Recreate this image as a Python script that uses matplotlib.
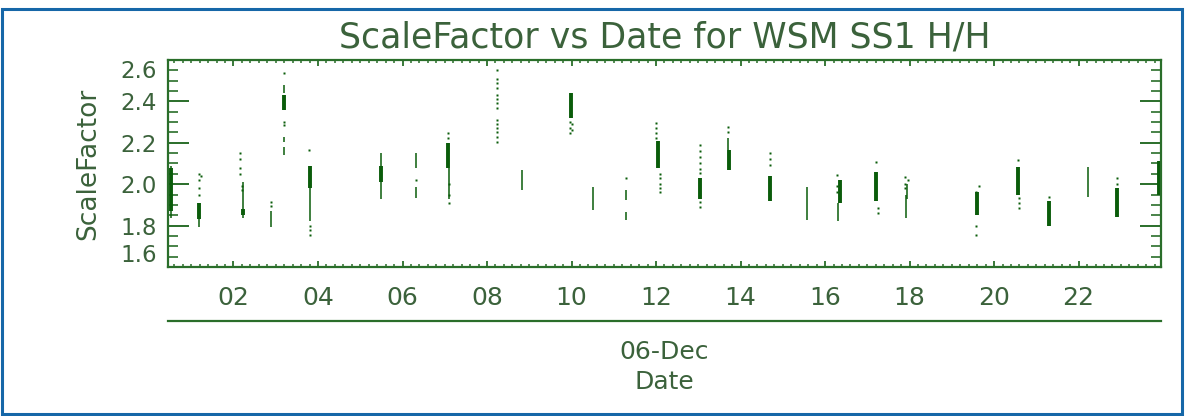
import numpy as np
import matplotlib
matplotlib.use("Agg")
import matplotlib.pyplot as plt
import matplotlib.dates as mdates
from matplotlib.patches import Rectangle
from matplotlib.lines import Line2D

DAY = np.datetime64("2006-12-06T00:00")

# dense parts of each pass (hour of day, low, high)
core_hours = [0.51, 1.19, 2.22, 3.20, 3.80, 5.49, 7.07, 9.98, 12.04, 13.04,
              13.72, 14.70, 16.35, 17.21, 19.60, 20.57, 21.29, 22.92, 23.91]
core_lo = [1.87, 1.83, 1.85, 2.36, 1.98, 2.01, 2.08, 2.32, 2.08, 1.93,
           2.07, 1.92, 1.91, 1.92, 1.85, 1.95, 1.80, 1.84, 1.95]
core_hi = [2.08, 1.91, 1.88, 2.43, 2.09, 2.09, 2.20, 2.44, 2.21, 2.03,
           2.165, 2.04, 2.02, 2.06, 1.96, 2.085, 1.92, 1.98, 2.11]

# thinner runs of points
run_hours = [0.51, 1.19, 2.23, 2.89, 3.20, 3.20, 3.19, 3.82, 5.49, 6.33,
             6.33, 7.09, 8.82, 10.50, 11.30, 11.30, 13.70, 15.57, 16.30,
             17.92, 17.95, 22.23]
run_lo = [1.835, 1.795, 1.835, 1.795, 2.14, 2.205, 2.44, 1.82, 1.93, 2.077,
          1.932, 1.93, 1.972, 1.875, 1.924, 1.827, 2.165, 1.827, 1.82,
          1.835, 1.93, 1.94]
run_hi = [2.09, 1.83, 2.01, 1.87, 2.18, 2.23, 2.48, 1.98, 2.15, 2.149,
          1.988, 2.08, 2.069, 1.988, 1.972, 1.867, 2.222, 1.988, 1.91,
          1.948, 2.0, 2.085]

# isolated points
dot_hours = [1.19, 1.19, 1.19, 1.19, 1.22,
             2.16, 2.16, 2.16, 2.16, 2.20, 2.20,
             2.89, 2.89,
             3.20, 3.20, 3.20,
             3.78, 3.82, 3.82, 3.82,
             6.33,
             7.07, 7.07, 7.10, 7.10, 7.10,
             8.23, 8.23, 8.23, 8.23, 8.23, 8.23, 8.23, 8.23, 8.23, 8.23,
             8.23, 8.23, 8.23, 8.23,
             9.96, 9.96, 9.96, 10.0, 10.0,
             11.30,
             12.00, 12.00, 12.00, 12.00, 12.10, 12.10, 12.10, 12.10, 12.10,
             13.04, 13.04, 13.04, 13.04, 13.04, 13.04, 13.04, 13.04,
             13.70, 13.70,
             14.70, 14.70, 14.70,
             16.28, 16.28, 16.28,
             17.21, 17.25, 17.25,
             17.88, 17.88, 17.88, 17.97,
             19.58, 19.58, 19.58, 19.65,
             20.57, 20.60, 20.60, 20.60,
             21.29,
             22.90, 22.90]
dot_vals = [2.05, 2.02, 1.98, 1.95, 2.04,
            2.15, 2.12, 2.08, 2.05, 1.99, 1.97,
            1.916, 1.895,
            2.535, 2.30, 2.285,
            2.165, 1.80, 1.78, 1.755,
            2.02,
            2.246, 2.225, 1.91, 1.95, 2.0,
            2.552, 2.51, 2.49, 2.463, 2.43, 2.41, 2.39, 2.366, 2.31, 2.29,
            2.27, 2.25, 2.23, 2.206,
            2.30, 2.27, 2.246, 2.29, 2.26,
            2.028,
            2.294, 2.27, 2.245, 2.222, 2.05, 2.03, 2.0, 1.98, 1.964,
            2.19, 2.16, 2.13, 2.10, 2.075, 2.052, 1.916, 1.892,
            2.278, 2.25,
            2.149, 2.12, 2.093,
            2.044, 1.99, 1.96,
            2.109, 1.883, 1.86,
            2.036, 2.0, 1.98, 2.02,
            1.755, 1.96, 1.80, 1.99,
            2.117, 1.932, 1.91, 1.883,
            1.94,
            2.028, 2.0]

x_range_hours = [0.45, 23.95]
y_range = [1.6, 2.6]
y_ticks = [1.6, 1.8, 2.0, 2.2, 2.4, 2.6]


def to_time(hours):
    secs = np.round(np.asarray(hours) * 3600).astype("int64")
    return DAY + secs.astype("timedelta64[s]")


data_col = "#0a5c0a"
axis_col = "#2a6e2a"
text_col = "#3b623b"

fig = plt.figure(figsize=(11.85, 4.16), dpi=100)
ax = fig.add_axes([168 / 1185, 1 - 267 / 416, 993 / 1185, 207 / 416])

ax.vlines(to_time(core_hours), core_lo, core_hi, color=data_col, lw=2.8)
ax.vlines(to_time(run_hours), run_lo, run_hi, color=data_col, lw=1.1)
ax.plot(to_time(dot_hours), dot_vals, ls="none", marker="s", ms=1.7,
        mec="none", mfc=data_col)

ax.set_xlim(to_time(x_range_hours))
ax.set_ylim(y_range)
ax.set_yticks(y_ticks)
ax.yaxis.set_minor_locator(plt.MultipleLocator(0.05))
ax.xaxis.set_major_locator(mdates.HourLocator(byhour=range(2, 24, 2)))
ax.xaxis.set_minor_locator(mdates.MinuteLocator(byminute=range(0, 60, 12)))
ax.xaxis.set_major_formatter(mdates.DateFormatter("%H"))

for sp in ax.spines.values():
    sp.set_color(axis_col)
    sp.set_linewidth(1.6)

ax.tick_params(axis="y", which="major", direction="in", length=15, width=1.4,
               left=True, right=True, color=axis_col, labelsize=16.5,
               labelcolor=text_col, pad=8)
ax.tick_params(axis="y", which="minor", direction="in", length=7, width=1.2,
               left=True, right=True, color=axis_col)
ax.tick_params(axis="x", which="major", direction="in", length=4.5, width=1.3,
               top=True, bottom=True, color=axis_col, labelsize=18,
               labelcolor=text_col, pad=14)
ax.tick_params(axis="x", which="minor", direction="in", length=2.5, width=1.1,
               top=True, bottom=True, color=axis_col)

fig.canvas.draw()
ylabels = ax.get_yticklabels()
ylabels[0].set_va("bottom")
ylabels[-1].set_va("top")

ax.set_title("ScaleFactor vs Date for WSM SS1 H/H", fontsize=25,
             color=text_col, pad=9)
ax.set_ylabel("ScaleFactor", fontsize=19, color=text_col, labelpad=14)

# date line and labels under the axis
ax.add_line(Line2D([0, 1], [-0.259, -0.259], transform=ax.transAxes,
                   color=axis_col, lw=1.6, clip_on=False))
ax.text(0.5, -0.41, "06-Dec", transform=ax.transAxes, ha="center",
        va="center", fontsize=18, color=text_col)
ax.text(0.5, -0.555, "Date", transform=ax.transAxes, ha="center",
        va="center", fontsize=18, color=text_col)

# blue frame around the picture
fig.add_artist(Rectangle((2 / 1185, 2 / 416), 1180 / 1185, 405 / 416,
                         transform=fig.transFigure, fill=False,
                         edgecolor="#1667a8", lw=2.2))

fig.savefig("out.png", dpi=100)
